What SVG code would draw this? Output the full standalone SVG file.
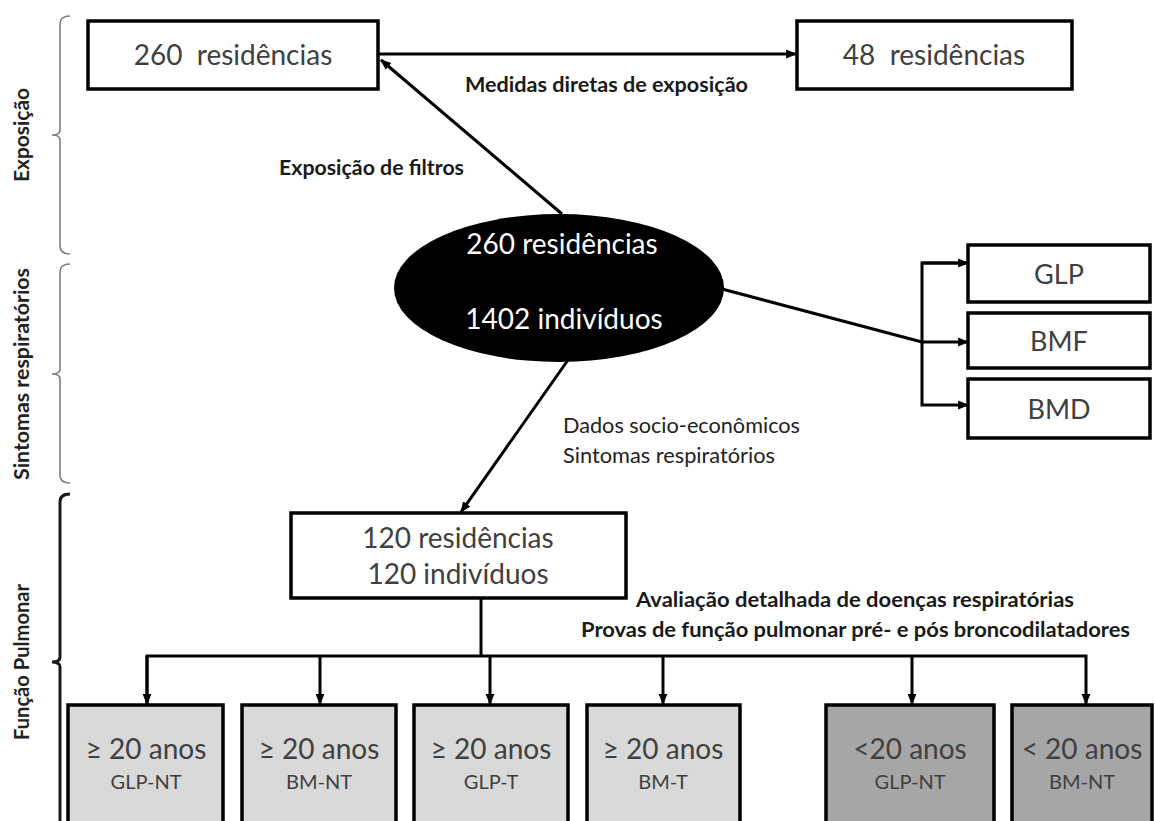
<svg xmlns="http://www.w3.org/2000/svg" width="1155" height="821" viewBox="0 0 1155 821">
<style>
  .box { fill: #ffffff; stroke: #000000; stroke-width: 3.5; }
  .lg { fill: #d9d9d9; stroke: #000000; stroke-width: 3.5; }
  .dg { fill: #a6a6a6; stroke: #000000; stroke-width: 3.5; }
  .t { font-family: Lato, "Open Sans", "Liberation Sans", sans-serif; fill: #404040; text-anchor: middle; }
  .big { font-size: 28px; }
  .mid { font-size: 27px; }
  .sub { font-size: 20px; }
  .w { fill: #ffffff; }
  .lbl { font-family: Lato, "Liberation Sans", sans-serif; font-weight: bold; fill: #1a1a1a; font-size: 21px; }
  .reg { font-family: Lato, "Open Sans", "Liberation Sans", sans-serif; fill: #222222; font-size: 21px; }
  .side { font-family: Lato, "Liberation Sans", sans-serif; font-weight: bold; fill: #222222; font-size: 21px; text-anchor: middle; }
  .conn { fill: none; stroke: #000000; stroke-width: 3; }
  .brk { fill: none; stroke: #7f7f7f; stroke-width: 1.6; }
  .brkb { fill: none; stroke: #1a1a1a; stroke-width: 3; }
</style>
<defs>
  <marker id="ah" viewBox="0 0 10 10" refX="9" refY="5" markerWidth="11" markerHeight="11" markerUnits="userSpaceOnUse" orient="auto">
    <path d="M0,1 L10,5 L0,9 z" fill="#000000"/>
  </marker>
</defs>

<g id="side-labels">
  <path class="brk" d="M70,16 Q60,16 60,24 L60,130 Q60,135 52,135 Q60,135 60,140 L60,246 Q60,254 70,254"/>
  <path class="brk" d="M70,264 Q60,264 60,272 L60,369 Q60,374 52,374 Q60,374 60,379 L60,475 Q60,483 70,483"/>
  <path class="brkb" d="M70,494 Q60,494 60,502 L60,657 Q60,662 52,662 Q60,662 60,667 L60,830"/>
  <text class="side" transform="translate(29,135) rotate(-90)" textLength="94" lengthAdjust="spacingAndGlyphs">Exposição</text>
  <text class="side" transform="translate(29,374) rotate(-90)" textLength="212" lengthAdjust="spacingAndGlyphs">Sintomas respiratórios</text>
  <text class="side" transform="translate(29,662) rotate(-90)" textLength="156" lengthAdjust="spacingAndGlyphs">Função Pulmonar</text>
</g>

<g id="connectors">
  <line class="conn" x1="378" y1="54" x2="796" y2="54" marker-end="url(#ah)"/>
  <line class="conn" x1="562" y1="214" x2="381" y2="60" marker-end="url(#ah)"/>
  <line class="conn" x1="722" y1="289" x2="922" y2="342"/>
  <path class="conn" d="M968,263 L922,263 L922,405 L968,405" marker-end="url(#ah)"/>
  <path class="conn" d="M922,263 L968,263" marker-end="url(#ah)"/>
  <path class="conn" d="M922,342 L968,342" marker-end="url(#ah)"/>
  <line class="conn" x1="568" y1="360" x2="461" y2="512" marker-end="url(#ah)"/>
  <line class="conn" x1="481" y1="598" x2="481" y2="656"/>
  <path class="conn" d="M147,704 L147,656 L1086,656 L1086,704" marker-end="url(#ah)"/>
  <path class="conn" d="M147,656 L147,704" marker-end="url(#ah)"/>
  <line class="conn" x1="320" y1="656" x2="320" y2="704" marker-end="url(#ah)"/>
  <line class="conn" x1="490" y1="656" x2="490" y2="704" marker-end="url(#ah)"/>
  <line class="conn" x1="663" y1="656" x2="663" y2="704" marker-end="url(#ah)"/>
  <line class="conn" x1="912" y1="656" x2="912" y2="704" marker-end="url(#ah)"/>
</g>

<g id="edge-labels">
  <text class="lbl" x="465" y="92" textLength="283" lengthAdjust="spacingAndGlyphs">Medidas diretas de exposição</text>
  <text class="lbl" x="279" y="175" textLength="185" lengthAdjust="spacingAndGlyphs" fill="#333333">Exposição de filtros</text>
  <text class="reg" x="563" y="433" textLength="237" lengthAdjust="spacingAndGlyphs">Dados socio-econômicos</text>
  <text class="reg" x="563" y="463" textLength="212" lengthAdjust="spacingAndGlyphs">Sintomas respiratórios</text>
  <text class="lbl" x="636" y="607" textLength="438" lengthAdjust="spacingAndGlyphs">Avaliação detalhada de doenças respiratórias</text>
  <text class="lbl" x="581" y="637" textLength="549" lengthAdjust="spacingAndGlyphs">Provas de função pulmonar pré- e pós broncodilatadores</text>
</g>

<g id="node-260-top">
  <rect class="box" x="88" y="21" width="290" height="68"/>
  <text class="t big" x="233" y="65">260&#160; residências</text>
</g>
<g id="node-48">
  <rect class="box" x="797" y="21" width="275" height="68"/>
  <text class="t big" x="934" y="65">48&#160; residências</text>
</g>
<g id="node-ellipse">
  <ellipse cx="559" cy="288" rx="165" ry="74" fill="#000000"/>
  <text class="t big w" x="562" y="254">260 residências</text>
  <text class="t big w" x="564" y="329">1402 indivíduos</text>
</g>
<g id="node-GLP">
  <rect class="box" x="968" y="245" width="182" height="57"/>
  <text class="t mid" x="1059" y="284">GLP</text>
</g>
<g id="node-BMF">
  <rect class="box" x="968" y="313" width="182" height="55"/>
  <text class="t mid" x="1059" y="351">BMF</text>
</g>
<g id="node-BMD">
  <rect class="box" x="968" y="379" width="182" height="59"/>
  <text class="t mid" x="1059" y="419">BMD</text>
</g>
<g id="node-120">
  <rect class="box" x="291" y="513" width="335" height="85"/>
  <text class="t big" x="458" y="548">120 residências</text>
  <text class="t big" x="458" y="584">120 indivíduos</text>
</g>
<g id="node-b1">
  <rect class="lg" x="68" y="705" width="155" height="125"/>
  <text class="t big" x="146" y="759">≥ 20 anos</text>
  <text class="t sub" x="146" y="789">GLP-NT</text>
</g>
<g id="node-b2">
  <rect class="lg" x="242" y="705" width="154" height="125"/>
  <text class="t big" x="319" y="759">≥ 20 anos</text>
  <text class="t sub" x="319" y="789">BM-NT</text>
</g>
<g id="node-b3">
  <rect class="lg" x="414" y="705" width="154" height="125"/>
  <text class="t big" x="491" y="759">≥ 20 anos</text>
  <text class="t sub" x="491" y="789">GLP-T</text>
</g>
<g id="node-b4">
  <rect class="lg" x="587" y="705" width="153" height="125"/>
  <text class="t big" x="663" y="759">≥ 20 anos</text>
  <text class="t sub" x="663" y="789">BM-T</text>
</g>
<g id="node-b5">
  <rect class="dg" x="826" y="705" width="168" height="125"/>
  <text class="t big" x="910" y="759">&lt;20 anos</text>
  <text class="t sub" x="910" y="789">GLP-NT</text>
</g>
<g id="node-b6">
  <rect class="dg" x="1012" y="705" width="140" height="125"/>
  <text class="t big" x="1082" y="759">&lt; 20 anos</text>
  <text class="t sub" x="1082" y="789">BM-NT</text>
</g>
</svg>
